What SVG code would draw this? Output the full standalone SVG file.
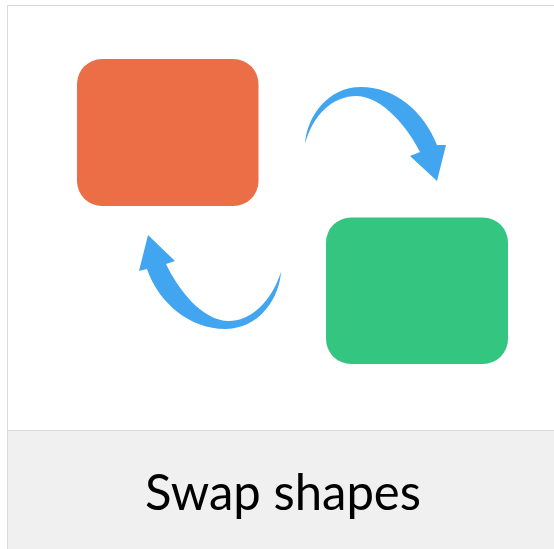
<svg xmlns="http://www.w3.org/2000/svg" width="554" height="549" viewBox="0 0 554 549">
<style>
.arrow{fill:#42a5f0}
.edge{fill:none;stroke:#d9d9d9;stroke-width:1}
.label{font-family:"Lato","Open Sans","Liberation Sans",sans-serif;font-size:50px;fill:#000}
</style>
<rect width="554" height="549" fill="#fff"/>
<g id="panel">
<rect x="7.5" y="430.5" width="547" height="119" fill="#f0f0f0"/>
<path class="edge" d="M554 5.5H7.5V549M7.5 430.5H554"/>
<text class="label" x="145" y="510" textLength="276" lengthAdjust="spacingAndGlyphs">Swap shapes</text>
</g>
<g id="shape-red"><rect x="77" y="59" width="181.500" height="147" rx="25" fill="#eb6e46"/></g>
<g id="shape-green"><rect x="326" y="217.500" width="182" height="146.500" rx="25" fill="#34c581"/></g>
<g id="connectors">
<path class="arrow" d="M305 144C307 116 328 87 361 87C396 87 424 112 437 145L446 145L437 181L410 156L420 152C408 128 383 97 357 96C332 96 313 115 305 144Z"/>
<path class="arrow" d="M281 272C279 300 258 329 225 329C191 329 159 304 147 269L139 271L148 235L175 261L166 264C178 289 202 321 229 321C252 321 272 300 281 272Z"/>
</g>
</svg>
